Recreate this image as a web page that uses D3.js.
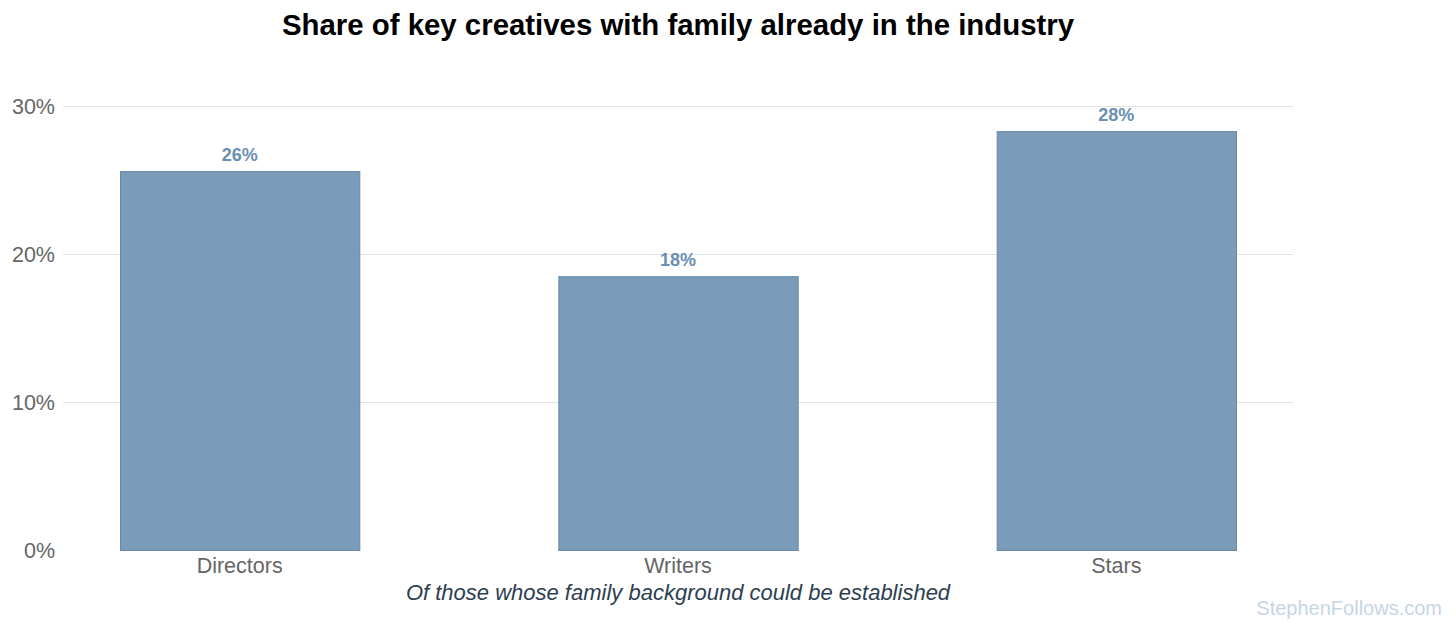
<!DOCTYPE html>
<html lang="en">
<head>
    <meta charset="UTF-8">
    <title>Share of key creatives</title>
    <script src="https://d3js.org/d3.v7.min.js"></script>
    <style>
        body { margin: 0; background: #fff; }
        text { font-family: "Liberation Sans", Arial, sans-serif; }
    </style>
</head>
<body>
<script>
    const width  = 1456;
    const height = 632;

    const roles  = ["Directors", "Writers", "Stars"];
    const shares = [25.6, 18.5, 28.3];
    const labels = ["26%", "18%", "28%"];
    const yTicks = [0, 10, 20, 30];

    const data = roles.map((r, i) => ({role: r, value: shares[i], label: labels[i]}));

    const x = d3.scaleBand()
            .domain(roles)
            .range([63, 1293])
            .paddingInner(0.454)
            .paddingOuter(0.13);

    const y = d3.scaleLinear()
            .domain([0, 30])
            .range([550, 106]);

    const svg = d3.select("body")
            .append("svg")
            .attr("width", width)
            .attr("height", height);

    // gridlines (none at zero)
    svg.append("g")
        .selectAll("line")
        .data(yTicks.filter(d => d > 0))
        .join("line")
        .attr("x1", 63)
        .attr("x2", 1293)
        .attr("y1", d => y(d) + 0.5)
        .attr("y2", d => y(d) + 0.5)
        .style("stroke", "#e3e3e3")
        .style("stroke-width", 1);

    // y tick labels
    svg.append("g")
        .selectAll("text")
        .data(yTicks)
        .join("text")
        .attr("x", 55)
        .attr("y", d => y(d))
        .attr("dy", "0.35em")
        .attr("text-anchor", "end")
        .style("font-size", "21.5px")
        .style("fill", "#666")
        .text(d => d + "%");

    // bars
    svg.append("g")
        .selectAll("rect")
        .data(data)
        .join("rect")
        .attr("x", d => x(d.role) + 0.5)
        .attr("y", d => y(d.value) + 0.5)
        .attr("width", x.bandwidth())
        .attr("height", d => y(0) - y(d.value))
        .style("fill", "#7a9cb8")
        .style("stroke", "#6688a6")
        .style("stroke-width", 1);

    // value labels
    svg.append("g")
        .selectAll("text")
        .data(data)
        .join("text")
        .attr("x", d => x(d.role) + x.bandwidth() / 2)
        .attr("y", d => y(d.value) - 10)
        .attr("text-anchor", "middle")
        .style("font-size", "18px")
        .style("font-weight", "bold")
        .style("fill", "#6a8fb2")
        .text(d => d.label);

    // category labels
    svg.append("g")
        .selectAll("text")
        .data(roles)
        .join("text")
        .attr("x", d => x(d) + x.bandwidth() / 2)
        .attr("y", 573)
        .attr("text-anchor", "middle")
        .style("font-size", "21.5px")
        .style("fill", "#666")
        .text(d => d);

    svg.append("text")
        .attr("x", 678)
        .attr("y", 600)
        .attr("text-anchor", "middle")
        .style("font-size", "22px")
        .style("font-style", "italic")
        .style("fill", "#2c3e50")
        .text("Of those whose family background could be established");

    svg.append("text")
        .attr("x", 678)
        .attr("y", 35)
        .attr("text-anchor", "middle")
        .style("font-size", "29.4px")
        .style("font-weight", "bold")
        .style("fill", "#000")
        .text("Share of key creatives with family already in the industry");

    svg.append("text")
        .attr("x", 1442)
        .attr("y", 615)
        .attr("text-anchor", "end")
        .style("font-size", "20px")
        .style("fill", "#c6d6e6")
        .text("StephenFollows.com");
</script>
</body>
</html>
